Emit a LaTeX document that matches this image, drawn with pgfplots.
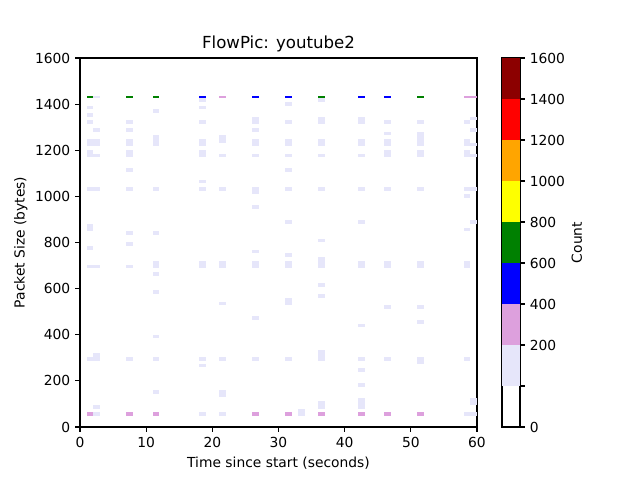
\documentclass[border=0pt]{standalone}
\usepackage{fontspec}
\setmainfont{DejaVu Sans}
\usepackage{pgfplots}
\pgfplotsset{compat=1.18}
\usepackage{pgfplotstable}

\definecolor{lav}{HTML}{E6E6FA}
\definecolor{plumc}{HTML}{DDA0DD}
\definecolor{blu}{HTML}{0000FF}
\definecolor{grn}{HTML}{008000}
\definecolor{yel}{HTML}{FFFF00}
\definecolor{orn}{HTML}{FFA500}
\definecolor{rd}{HTML}{FF0000}
\definecolor{drd}{HTML}{8B0000}

% one cell of the 2D histogram: 1 s wide, height h (bytes)
\pgfdeclareplotmark{cell}{%
  \pgfpathrectangle{\pgfpointorigin}{\pgfplotspointaxisdirectionxy{1}{\cellh}}%
  \pgfusepathqfill}
\pgfplotsset{cellplot/.style={only marks, mark=cell, color=#1,
  visualization depends on={\thisrow{h}\as\cellh}}}

% count 1-200
\pgfplotstableread{
x y h
1 1379 12
1 1344 16
1 1314 16
1 1217 30
1 1170 30
1 1024 16
1 849 30
1 768 16
1 689 13
1 288 16
2 1426 11
2 1279 16
2 1217 30
2 1170 13
2 1024 16
2 689 13
2 288 33
2 80 16
2 48.5 17
7 1314 16
7 1279 16
7 1217 30
7 1170 30
7 1106 16
7 1024 16
7 833 16
7 786 16
7 689 13
7 288 16
11 1361 16
11 1217 48
11 1024 16
11 833 16
11 689 30
11 656 16
11 578 16
11 386 13
11 288 16
11 145 16
18 1409 16
18 1379 12
18 1314 16
18 1217 30
18 1170 30
18 1057 13
18 1024 16
18 689 30
18 288 16
18 258 16
18 48.5 17
21 1232 33
21 1170 13
21 1024 16
21 689 30
21 529 13
21 288 16
21 128 33
21 48.5 17
26 1313 30
26 1279 16
26 1217 30
26 1170 13
26 1010 30
26 946 16
26 754 13
26 689 30
26 465 16
26 288 16
31 1392 16
31 1314 16
31 1217 30
31 1170 13
31 1106 16
31 1024 16
31 881 16
31 738 16
31 689 30
31 529 30
31 288 16
33 48.5 30
36 1409 16
36 1313 30
36 1217 30
36 1170 13
36 1024 16
36 802 13
36 689 48
36 608 16
36 561 16
36 287 47
36 80 33
42 1313 30
42 1217 30
42 1170 13
42 1024 16
42 881 16
42 689 30
42 434 13
42 288 16
42 240 16
42 175 16
42 80 46
46 1314 16
46 1265 13
46 1217 30
46 1170 30
46 1024 16
46 689 30
46 513 16
46 288 16
51 1314 16
51 1217 61
51 1170 30
51 1024 16
51 689 30
51 513 16
51 448 16
51 274 30
58 1314 16
58 1217 30
58 1170 30
58 1024 16
58 994 16
58 849 13
58 689 30
58 288 16
58 48.5 17
59 1330 13
59 1279 16
59 1217 14
59 1170 13
59 1024 16
59 881 16
59 96 30
59 48.5 17
}\lavcells

% count 200-400
\pgfplotstableread{
x y h
21 1426 11
58 1426 11
59 1426 11
1 48.5 17
7 48.5 17
11 48.5 17
26 48.5 17
31 48.5 17
36 48.5 17
42 48.5 17
46 48.5 17
51 48.5 17
}\plumcells

% count 400-600
\pgfplotstableread{
x y h
18 1426 11
26 1426 11
31 1426 11
42 1426 11
46 1426 11
}\bluecells

% count 600-800
\pgfplotstableread{
x y h
1 1426 11
7 1426 11
11 1426 11
36 1426 11
51 1426 11
}\greencells

% colour bar: bands in equal steps (bounds 0,1,200,...,1600)
\pgfplotstableread{
x y h c
0 1 1 1
0 2 1 2
0 3 1 3
0 4 1 4
0 5 1 5
0 6 1 6
0 7 1 7
0 8 1 8
}\cbands

\begin{document}
\fontsize{10}{12}\selectfont
\begin{tikzpicture}
\useasboundingbox (0,0) rectangle (460.8bp,345.6bp);
\pgfplotsset{every axis/.append style={
  scale only axis, anchor=south west, axis on top,
  tick align=outside, major tick length=3.5bp,
  every tick/.style={black, line width=0.8bp},
  axis line style={line width=0.8bp},
  /pgf/number format/assume math mode=true,
  /pgf/number format/1000 sep={},
  tick label style={font=\fontsize{10}{12}\selectfont},
  label style={font=\fontsize{10}{12}\selectfont},
}}
\begin{axis}[
  at={(57.6bp,38.16bp)},
  width=285.84bp, height=265.68bp,
  xmin=0, xmax=60, ymin=0, ymax=1600,
  xtick={0,10,...,60}, ytick={0,200,...,1600},
  tick pos=left,
  title={FlowPic: youtube2},
  title style={font=\fontsize{12}{14}\selectfont, yshift=-5.5bp},
  xlabel={Time since start (seconds)},
  ylabel={Packet Size (bytes)},
  ylabel style={xshift=0bp, yshift=-1.5bp},
]
\addplot[cellplot=lav] table[x=x,y=y] {\lavcells};
\addplot[cellplot=plumc] table[x=x,y=y] {\plumcells};
\addplot[cellplot=blu] table[x=x,y=y] {\bluecells};
\addplot[cellplot=grn] table[x=x,y=y] {\greencells};
\end{axis}
\begin{axis}[
  at={(361.44bp,38.16bp)},
  width=12.96bp, height=265.68bp,
  xmin=0, xmax=1, ymin=0, ymax=9,
  xtick=\empty,
  ytick={0,...,9},
  yticklabels={0,{},200,400,600,800,1000,1200,1400,1600},
  ytick pos=right, yticklabel pos=right,
  ylabel={Count},
  ylabel style={yshift=2bp},
  scatter/use mapped color={fill=mapped color, draw=none},
  colormap={bands}{color(0)=(white) color(1)=(lav) color(2)=(plumc) color(3)=(blu) color(4)=(grn) color(5)=(yel) color(6)=(orn) color(7)=(rd) color(8)=(drd)},
  point meta min=0, point meta max=8,
]
\addplot[only marks, mark=cell, scatter, point meta=\thisrow{c},
  visualization depends on={\thisrow{h}\as\cellh}] table[x=x,y=y] {\cbands};
\end{axis}
\end{tikzpicture}
\end{document}
